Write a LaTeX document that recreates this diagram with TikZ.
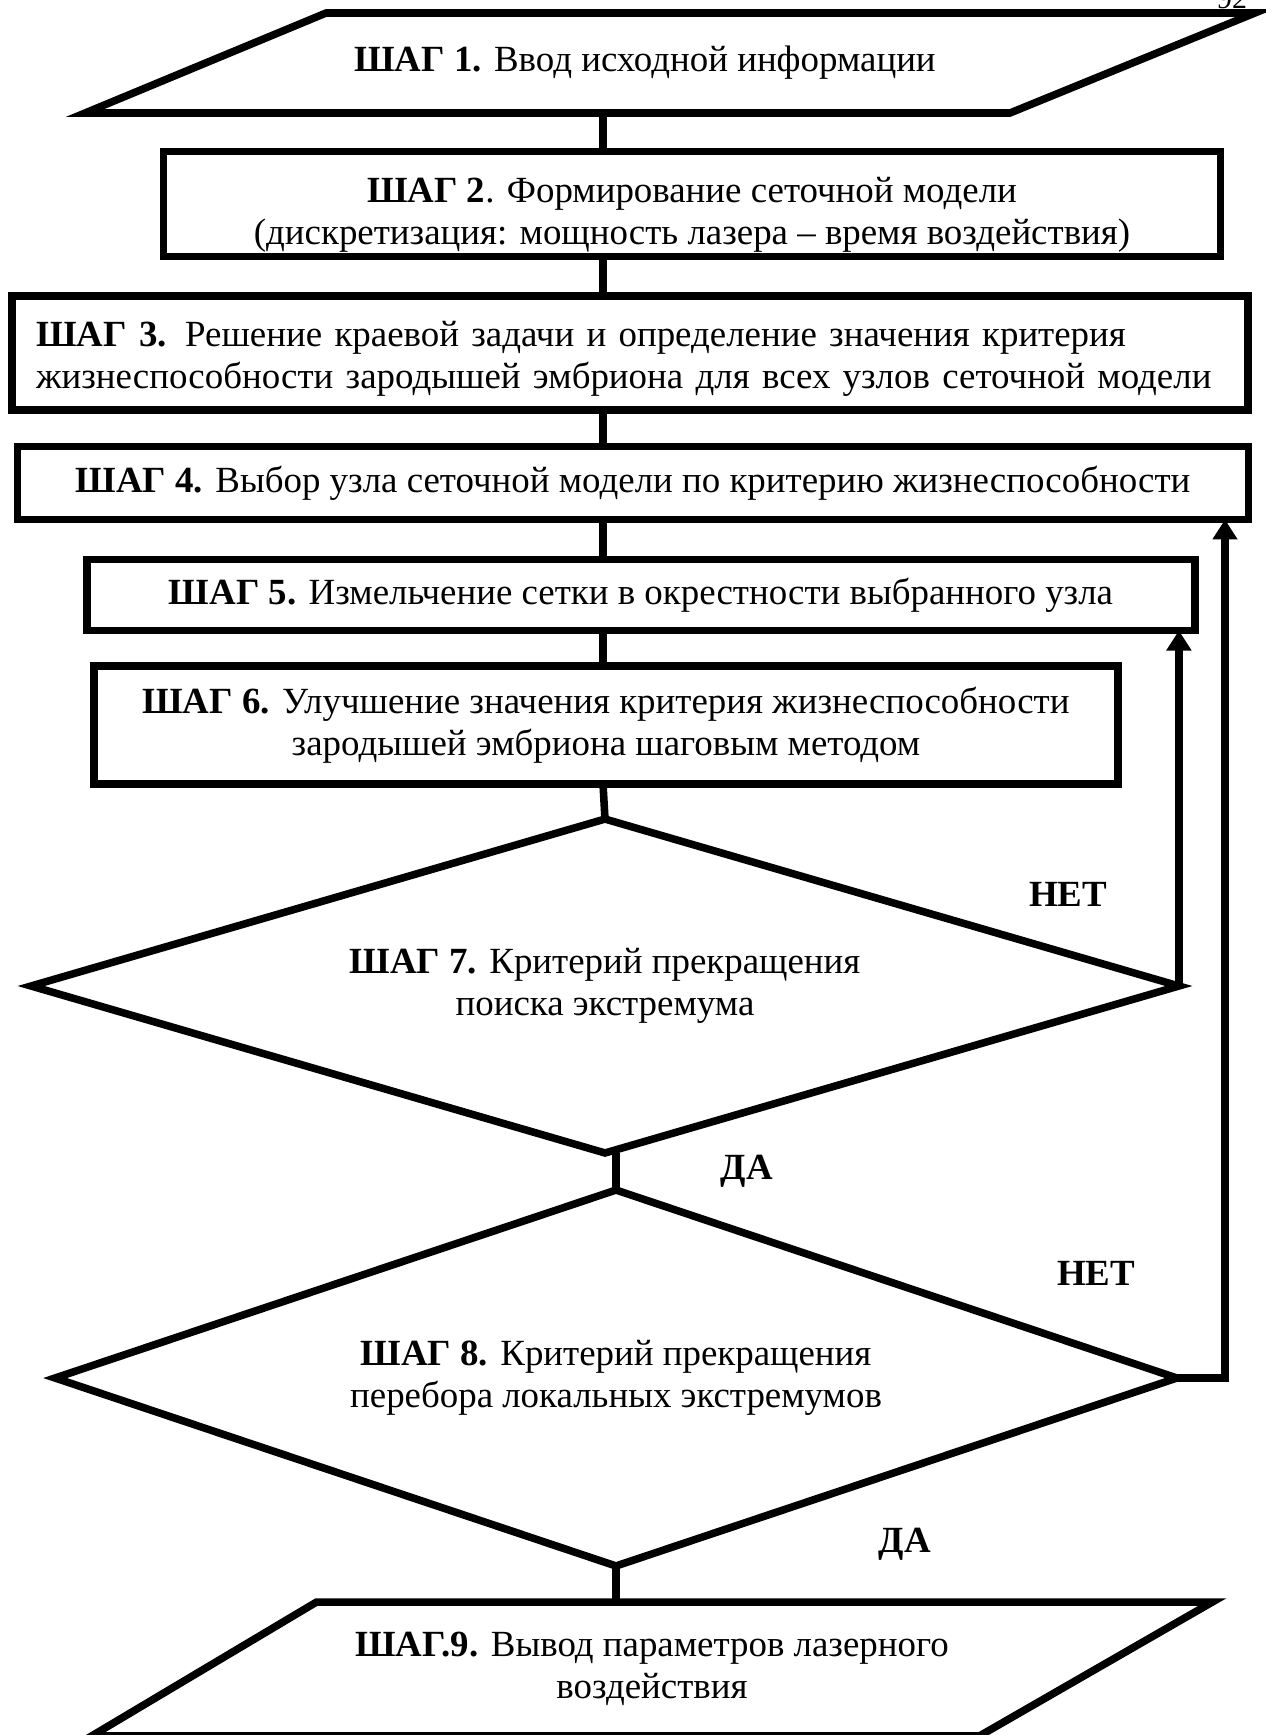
\documentclass[tikz,border=0pt]{standalone}
\usepackage{fontspec}
\setmainfont{Liberation Serif}
\usetikzlibrary{arrows.meta,shapes.geometric}
\tikzset{
 txt/.style={font=\fontsize{21}{24}\selectfont},
 frame/.style={txt,draw,line width=4.3pt,outer sep=0pt,inner sep=0pt},
 stepbox/.style={frame,rectangle,align=center},
 io/.style={txt,rectangle,outer sep=0pt,inner sep=0pt,align=center},
 test/.style={frame,diamond,align=center},
 link/.style={line width=4.3pt},
 back/.style={link,-{Triangle[width=0.48cm,length=0.4cm]}},
 ans/.style={font=\fontsize{21}{24}\selectfont\bfseries}
}
\newcommand{\lift}[1]{\rule{0pt}{#1}}
\begin{document}
\begin{tikzpicture}[x=0.02cm,y=-0.02cm]
 \useasboundingbox (0,0) rectangle (1265,1735);
 \node[anchor=base,font=\fontsize{17}{20}\selectfont] (pg) at (1232,8) {92};
 \coordinate (ax) at (603,0);
 \node[io,minimum width=23.4cm,minimum height=2cm] (s1) at (670,63) {\hspace*{-1cm}\textbf{ШАГ 1.} Ввод исходной информации};
 \draw[link] ([xshift=4.82cm]s1.north west) -- (s1.north east) -- ([xshift=-4.9cm]s1.south east) -- (s1.south west) -- cycle;
 \node[stepbox,minimum width=21.14cm,minimum height=2.1cm] (s2) at (692,204) {\lift{0.95cm}\textbf{ШАГ 2}. Формирование сеточной модели\\(дискретизация: мощность лазера – время воздействия)};
 \node[stepbox,align=left,text width=23.76cm,minimum width=24.72cm,minimum height=2.28cm] (s3) at (630,353) {\lift{0.75cm}\textbf{ШАГ 3.} Решение краевой задачи и определение значения критерия\\жизнеспособности зародышей эмбриона для всех узлов сеточной модели};
 \node[stepbox,minimum width=24.62cm,minimum height=1.46cm] (s4) at (633,483) {\textbf{ШАГ 4.} Выбор узла сеточной модели по критерию жизнеспособности};
 \node[stepbox,minimum width=22.16cm,minimum height=1.42cm] (s5) at (641,595) {\textbf{ШАГ 5.} Измельчение сетки в окрестности выбранного узла};
 \node[stepbox,minimum width=20.48cm,minimum height=2.36cm] (s6) at (606,725) {\textbf{ШАГ 6.} Улучшение значения критерия жизнеспособности\\зародышей эмбриона шаговым методом};
 \node[test,aspect=3.44,minimum width=22.96cm,minimum height=6.68cm] (d7) at (605,986) {\textbf{ШАГ 7.} Критерий прекращения\\поиска экстремума};
 \node[test,aspect=2.98,minimum width=22.44cm,minimum height=7.52cm] (d8) at (616,1378) {\textbf{ШАГ 8.} Критерий прекращения\\перебора локальных экстремумов};
 \node[io,minimum width=22.42cm,minimum height=2.68cm] (s9) at (652,1669) {\textbf{ШАГ.9.} Вывод параметров лазерного\\воздействия};
 \draw[link] ([xshift=4.5cm]s9.north west) -- (s9.north east) -- ([xshift=-4.66cm]s9.south east) -- (s9.south west) -- cycle;
 \draw[link] (s1.south -| ax) -- (s2.north -| ax);
 \draw[link] (s2.south -| ax) -- (s3.north -| ax);
 \draw[link] (s3.south -| ax) -- (s4.north -| ax);
 \draw[link] (s4.south -| ax) -- (s5.north -| ax);
 \draw[link] (s5.south -| ax) -- (s6.north -| ax);
 \draw[link] (s6.south -| ax) -- (d7.north);
 \draw[link] (d7.south -| d8.north) -- (d8.north);
 \draw[link] (d8.south) -- (d8.south |- s9.north);
 \draw[back] (d7.east) -- (d7.east |- s5.south);
 \coordinate (r8) at (1225,1378);
 \draw[back] (d8.east) -- (r8) -- (r8 |- s4.south);
 \node[ans] (no7) at (1068,894) {НЕТ};
 \node[ans] (yes7) at (747,1171) {ДА};
 \node[ans] (no8) at (1096,1273) {НЕТ};
 \node[ans] (yes8) at (905,1544) {ДА};
\end{tikzpicture}
\end{document}
